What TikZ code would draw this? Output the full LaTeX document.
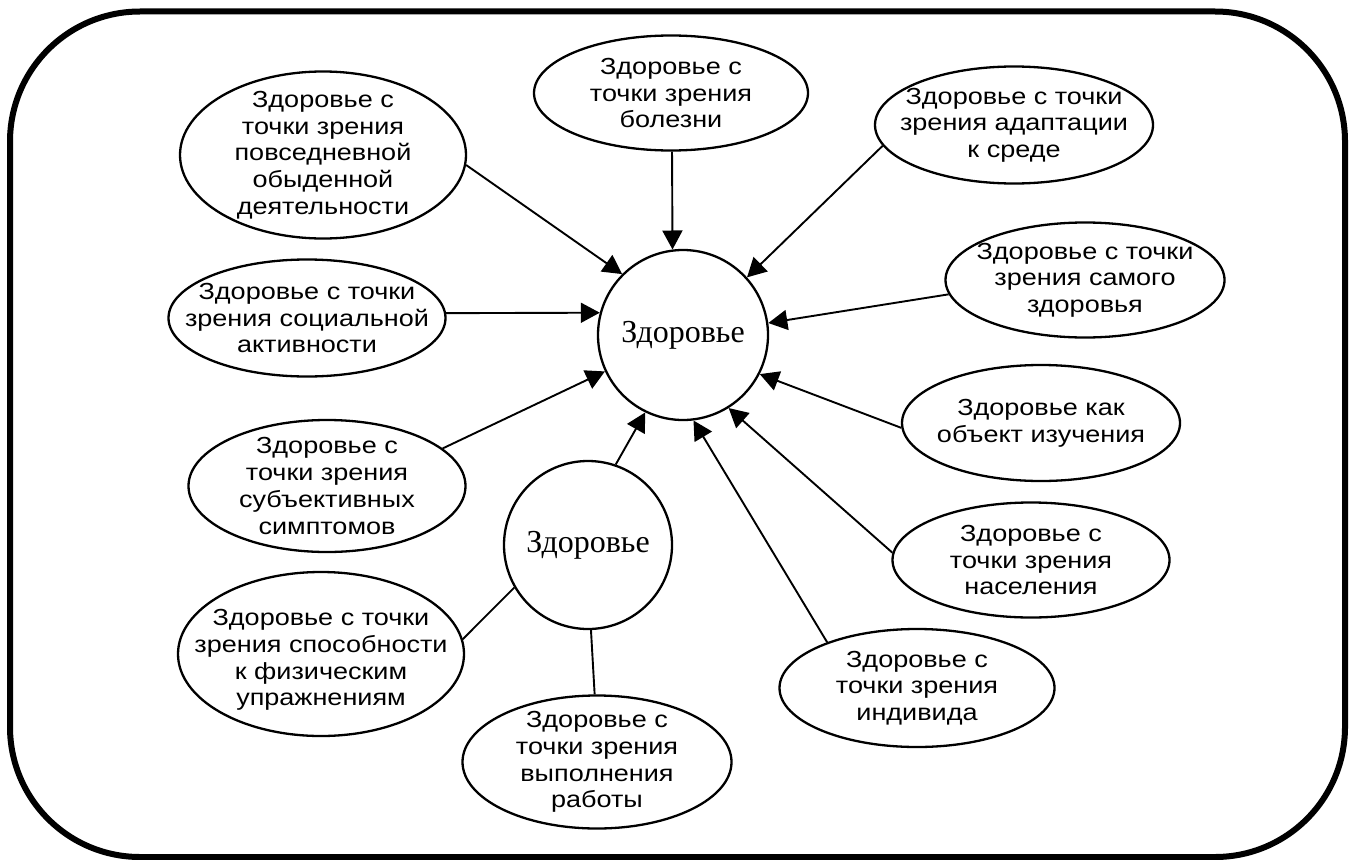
\documentclass[tikz,border=0pt]{standalone}
\usepackage{fontspec}
\setmainfont{Liberation Serif}
\newfontfamily\sansru[FakeStretch=1.16]{Liberation Sans}
\usetikzlibrary{shapes.geometric,arrows.meta}
\begin{document}
\begin{tikzpicture}[x=1pt,y=-1pt,
  ell/.style={draw,ellipse,line width=2.3pt,inner sep=0pt},
  txt/.style={align=center,font=\sansru\fontsize{23.3}{26.7}\selectfont,inner sep=0pt},
  hub/.style={draw,circle,line width=2.3pt,inner sep=0pt,font=\fontsize{32}{36}\selectfont},
  arr/.style={line width=1.9pt,-{Triangle[length=19pt,width=20pt]}},
  lnk/.style={line width=1.9pt}]
\useasboundingbox (0,0) rectangle (1354,859);
\fill[white] (0,0) rectangle (1354,859);
\draw[line width=6pt,rounded corners=130pt] (10,11.5) rectangle (1345,857);

\node[hub,minimum size=170pt] (C) at (683,335) {Здоровье};
\node[hub,minimum size=168pt] (H2) at (588,545) {Здоровье};

\node[ell,minimum width=274pt,minimum height=115pt,label={[txt]center:{Здоровье с\\точки зрения\\болезни}}] (T) at (671,93) {};
\node[ell,minimum width=286pt,minimum height=167pt,label={[txt]center:{Здоровье с\\точки зрения\\повседневной\\обыденной\\деятельности}}] (UL) at (323,155) {};
\node[ell,minimum width=278pt,minimum height=117pt,label={[txt]center:{Здоровье с точки\\зрения адаптации\\к среде}}] (UR) at (1014,125) {};
\node[ell,minimum width=279pt,minimum height=115pt,label={[txt]center:{Здоровье с точки\\зрения самого\\здоровья}}] (SH) at (1085,280) {};
\node[ell,minimum width=278pt,minimum height=116pt,label={[txt]center:{Здоровье как\\объект изучения}}] (OB) at (1041,423) {};
\node[ell,minimum width=277pt,minimum height=115pt,label={[txt]center:{Здоровье с\\точки зрения\\населения}}] (P) at (1031,560) {};
\node[ell,minimum width=275pt,minimum height=118pt,label={[txt]center:{Здоровье с\\точки зрения\\индивида}}] (I) at (917,688) {};
\node[ell,minimum width=277pt,minimum height=117pt,label={[txt]center:{Здоровье с точки\\зрения социальной\\активности}}] (S) at (307,318) {};
\node[ell,minimum width=277pt,minimum height=132pt,label={[txt]center:{Здоровье с\\точки зрения\\субъективных\\симптомов}}] (SY) at (327,486) {};
\node[ell,minimum width=286pt,minimum height=164pt,label={[txt,yshift=-6pt]center:{Здоровье с точки\\зрения способности\\к физическим\\упражнениям}}] (PH) at (321,654) {};
\node[ell,minimum width=269pt,minimum height=133pt,label={[txt]center:{Здоровье с\\точки зрения\\выполнения\\работы}}] (W) at (597,762) {};

\draw[arr] (T.-89) -- (C.97);
\draw[arr] (UL.-4) -- (C.135);
\draw[arr] (UR.-171) -- (C.42);
\draw[arr] (SH.186) -- (C.8);
\draw[arr] (OB.182) -- (C.-27);
\draw[arr] (P.177) -- (C.-58);
\draw[arr] (I.153) -- (C.-83);
\draw[arr] (S.2) -- (C.165);
\draw[arr] (SY.18) -- (C.-155);
\draw[arr] (H2.71) -- (C.-116);
\draw[lnk] (H2.210) -- (PH.6);
\draw[lnk] (H2.-88) -- (W.92);
\end{tikzpicture}
\end{document}
